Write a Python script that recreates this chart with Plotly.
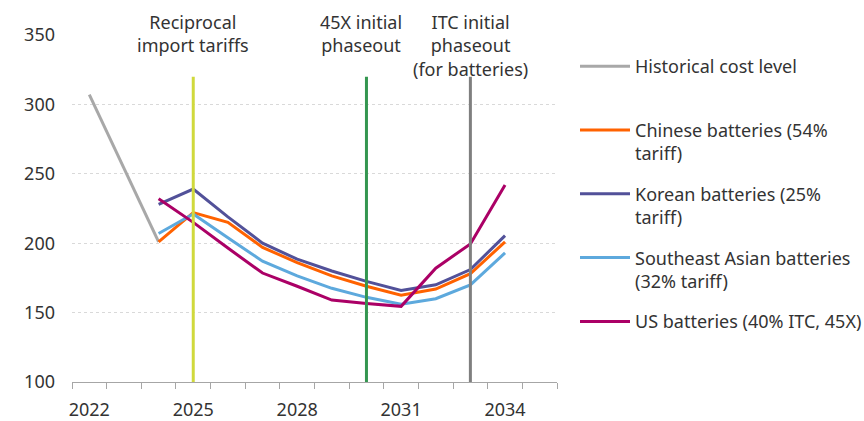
import plotly.graph_objects as go

hist_years = [2022, 2023, 2024]
hist_vals = [307, None, 201]

proj_years = [2024, 2025, 2026, 2027, 2028, 2029, 2030, 2031, 2032, 2033, 2034]
chinese = [201, 222, 215, 197, 186, 176.5, 169, 162.5, 167, 178, 201]
korean = [228, 239, 219, 200, 188.5, 180, 172.5, 166, 170, 181, 205.5]
seasian = [207, 221, 204, 187, 176.5, 167.5, 161, 156, 160, 170, 193]
us = [232, 215, 196.5, 178.5, 169, 159, 156.5, 154.5, 182, 199.5, 242]

event_years = [2025, 2030, 2033]
event_top = 320
event_labels = ["Reciprocal<br>import tariffs", "45X initial<br>phaseout",
                "ITC initial<br>phaseout<br>(for batteries)"]
event_colors = ["#D0D93C", "#349650", "#7F7F7F"]
event_xshift = [0, -5, 0]

tick_years = [2022, 2025, 2028, 2031, 2034]
y_ticks = [100, 150, 200, 250, 300, 350]

FONT = "Noto Sans"
TXT = "#333333"

fig = go.Figure()
series = [
    ("Historical cost level<br>\u00a0", hist_years, hist_vals, "#A8A8A8"),
    ("Chinese batteries (54%<br>tariff)", proj_years, chinese, "#FF6200"),
    ("Korean batteries (25%<br>tariff)", proj_years, korean, "#525199"),
    ("Southeast Asian batteries<br>(32% tariff)", proj_years, seasian, "#5DA9DD"),
    ("US batteries (40% ITC, 45X)", proj_years, us, "#AB0066"),
]
for i, (name, xs, ys, col) in enumerate(series):
    fig.add_trace(go.Scatter(
        x=xs, y=ys, name=name, mode="lines", connectgaps=True,
        line=dict(color=col, width=3), legendgroup=f"g{i}", hoverinfo="skip"))

for yr, lab, col, xs in zip(event_years, event_labels, event_colors, event_xshift):
    fig.add_shape(type="line", xref="x", yref="y", x0=yr, x1=yr, y0=100, y1=event_top,
                  line=dict(color=col, width=3), layer="above")
    fig.add_annotation(x=yr, xref="x", y=1.079, yref="paper", yanchor="top",
                       text=lab, showarrow=False, xshift=xs,
                       font=dict(family=FONT, size=18, color=TXT))

fig.update_layout(
    width=864, height=421,
    margin=dict(l=72, r=307, t=35, b=39),
    paper_bgcolor="white", plot_bgcolor="white",
    font=dict(family=FONT, size=18, color=TXT),
    showlegend=True,
    legend=dict(xref="container", yref="container", x=575/864, y=1 - 48/421,
                xanchor="left", yanchor="top", valign="top",
                tracegroupgap=14, itemwidth=50, maxheight=400,
                font=dict(family=FONT, size=18, color=TXT)),
    xaxis=dict(range=[2021.5, 2035.5], tickmode="array", tickvals=tick_years,
               ticktext=[str(t) for t in tick_years], ticks="", showgrid=False,
               showline=True, linecolor="#A6A6A6", linewidth=1, zeroline=False,
               ticklabelstandoff=11, automargin=False,
               minor=dict(tickmode="linear", tick0=2021.5, dtick=1, ticks="outside",
                          ticklen=6, tickcolor="#A6A6A6", tickwidth=1, showgrid=False)),
    yaxis=dict(range=[100, 350], tickmode="array", tickvals=y_ticks, ticks="",
               showgrid=True, gridcolor="#D9D9D9", griddash="dot", gridwidth=1,
               zeroline=False, showline=False, ticklabelstandoff=16, automargin=False),
)

fig.write_html("out.html")
